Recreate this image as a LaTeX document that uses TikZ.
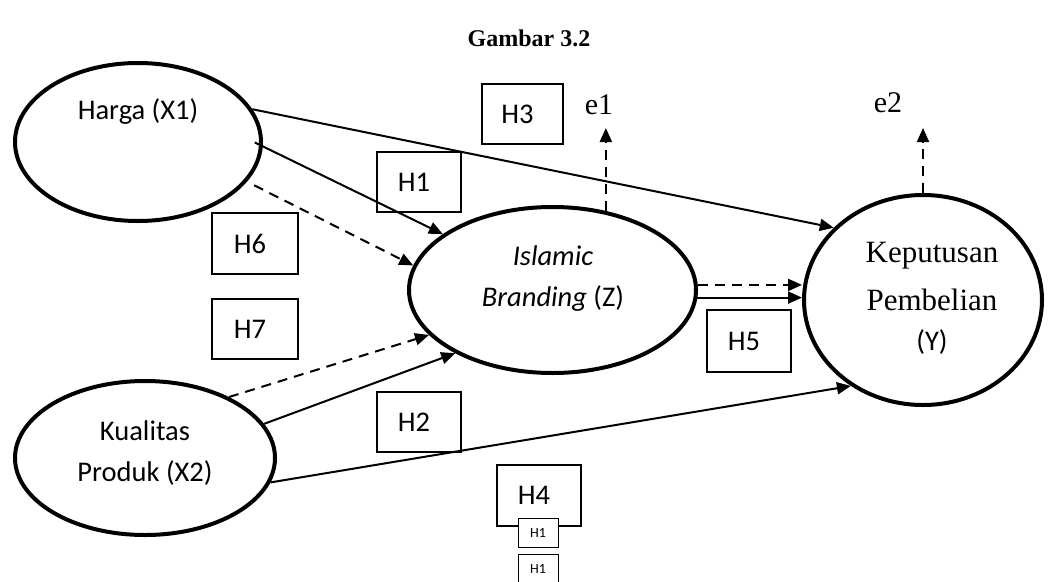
\documentclass[tikz,border=0pt]{standalone}
\usepackage{fontspec}
\setmainfont{Carlito}
\newfontfamily\tnr{Liberation Serif}
\usetikzlibrary{arrows.meta,shapes.geometric}
\begin{document}
\begin{tikzpicture}[x=1pt,y=-1pt,
  ell/.style={ellipse, draw, line width=4pt, inner sep=0pt},
  lbl/.style={font=\fontsize{28.5}{41}\selectfont, align=center, inner sep=0pt},
  serif/.style={font=\tnr\fontsize{31}{40}\selectfont, inner sep=0pt},
  hbox/.style={draw, line width=1.3pt, minimum width=84pt, minimum height=60pt, inner sep=0pt, font=\fontsize{28.5}{34}\selectfont},
  sbox/.style={draw, line width=1pt, fill=white, minimum width=40pt, minimum height=29pt, inner sep=0pt, font=\fontsize{14}{17}\selectfont},
  arr/.style={line width=2pt, -{Triangle[length=14pt,width=12pt]}},
  darr/.style={arr, dash pattern=on 10pt off 7pt},
]
\useasboundingbox[fill=white] (0,0) rectangle (1057,581);

% title
\node[font=\tnr\bfseries\fontsize{24}{28}\selectfont] (title) at (529,38) {Gambar 3.2};

% ellipses
\node[ell, minimum width=246pt, minimum height=158pt] (harga) at (138,142) {};
\node[ell, minimum width=287pt, minimum height=166pt] (ib) at (552.5,290) {};
\node[ell, minimum width=260pt, minimum height=154pt] (kual) at (145,458) {};
\node[ell, minimum width=238pt, minimum height=210pt] (kep) at (923,300) {};

% ellipse texts
\node[lbl] (tharga) at (138,112) {Harga (X1)};
\node[lbl] (tib) at (553,279) {\textit{Islamic}\\\textit{Branding} (Z)};
\node[lbl] (tkual) at (145,453) {Kualitas\\Produk (X2)};
\node[serif] (tkep1) at (932,256) {Keputusan};
\node[serif] (tkep2) at (932,300) {Pembelian};
\node[lbl] (tkep3) at (932,342) {(Y)};

% error labels
\node[serif, font=\tnr\fontsize{30}{36}\selectfont] (e1) at (599,105) {e1};
\node[serif, font=\tnr\fontsize{30}{36}\selectfont] (e2) at (888,103) {e2};
\coordinate (e1tip) at (605,128);
\coordinate (e2tip) at (923,128);

% hypothesis boxes
\node[hbox, minimum width=81pt] (h3) at (522.5,114) {H3\kern10pt};
\node[hbox] (h1) at (419,182) {H1\kern10pt};
\node[hbox, minimum width=86pt, minimum height=61pt] (h6) at (255,243.5) {H6\kern10pt};
\node[hbox, minimum width=86pt] (h7) at (255,329) {H7\kern10pt};
\node[hbox] (h2) at (419,422) {H2\kern10pt};
\node[hbox, minimum height=62pt] (h5) at (749,341) {H5\kern10pt};
\node[hbox, minimum height=61pt] (h4) at (539,495.5) {H4\kern10pt};
\node[sbox] (s1) at (538,532.5) {H1};
\node[sbox, minimum height=30pt] (s2) at (538,569) {H1};

% connectors
\draw[arr] (harga.16) -- (kep.141);
\draw[arr, shorten <=-9pt] (harga.-2) -- (ib.153);
\draw[darr, shorten <=8pt] (harga.-20) -- (ib.170);
\draw[darr] (kual.36) -- (ib.200.5);
\draw[arr] (kual.16.5) -- (ib.213.4);
\draw[arr] (kual.-11.8) -- (kep.230);
\draw[darr] (ib.2.8) -- (ib.2.8 -| kep.west);
\draw[arr] (ib.-3.5) -- (ib.-3.5 -| kep.west);
\draw[darr] (ib.56.4) -- (ib.56.4 |- e1tip);
\draw[darr] (kep.north) -- (kep.north |- e2tip);
\end{tikzpicture}
\end{document}
